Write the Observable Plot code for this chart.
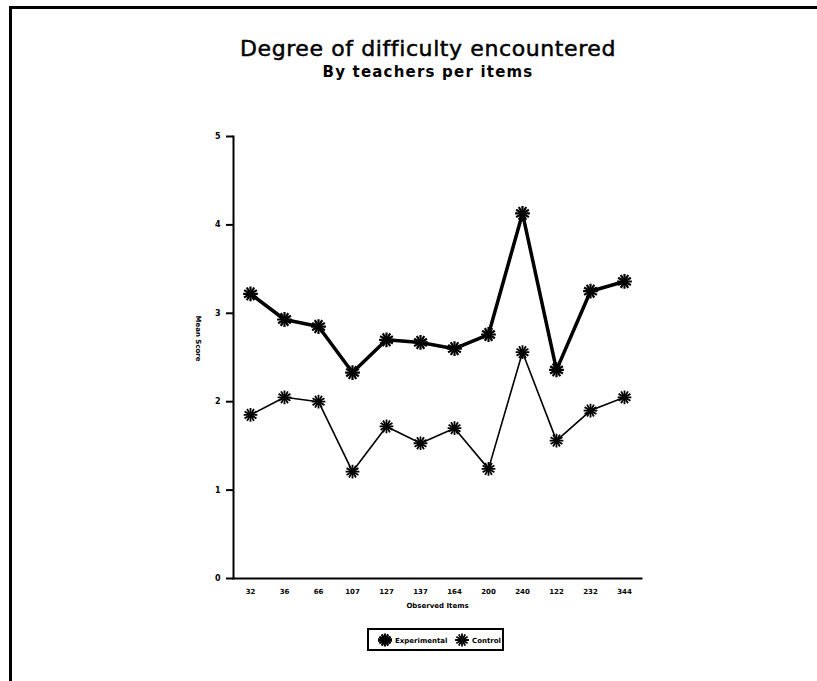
<!DOCTYPE html>
<html>
<head>
<meta charset="utf-8">
<script src="https://cdn.jsdelivr.net/npm/d3@7"></script>
<script src="https://cdn.jsdelivr.net/npm/@observablehq/plot@0.6"></script>
<style>
  html, body { margin: 0; padding: 0; background: #fff; }
  body { width: 817px; height: 681px; overflow: hidden; position: relative; font-family: "DejaVu Sans", sans-serif; color: #000; }
  #frame { position: absolute; left: 9px; top: 6px; width: 830px; height: 700px; border-top: 3px solid #000; border-left: 3px solid #000; }
  #title { position: absolute; left: 0; width: 856px; top: 36px; text-align: center; font-size: 22px; line-height: 26px; letter-spacing: 0.6px; -webkit-text-stroke: 0.5px #000; }
  #subtitle { position: absolute; left: 0; width: 856px; top: 63px; text-align: center; font-size: 15px; line-height: 19px; font-weight: bold; letter-spacing: 1.2px; }
  #chart { position: absolute; left: 0; top: 110px; }
  #legend { position: absolute; left: 367px; top: 628px; width: 133px; height: 19px; border: 2px solid #000; }
  #legend svg { display: block; }
</style>
</head>
<body>
<div id="frame"></div>
<div id="title">Degree of difficulty encountered</div>
<div id="subtitle">By teachers per items</div>
<div id="chart"></div>
<div id="legend"></div>
<script>
// ---- data ----
const items = ["32", "36", "66", "107", "127", "137", "164", "200", "240", "122", "232", "344"];
const experimental = [3.22, 2.93, 2.85, 2.33, 2.70, 2.67, 2.60, 2.76, 4.13, 2.36, 3.25, 3.36];
const control = [1.85, 2.05, 2.00, 1.21, 1.72, 1.53, 1.70, 1.24, 2.56, 1.56, 1.90, 2.05];
const yTicks = [0, 1, 2, 3, 4, 5];
const seriesNames = ["Experimental", "Control"];
const xLabel = "Observed Items";
const yLabel = "Mean Score";

const rows = items.flatMap((item, i) => [
  {item, group: seriesNames[0], v: experimental[i]},
  {item, group: seriesNames[1], v: control[i]}
]);
const expRows = rows.filter(d => d.group === seriesNames[0]);
const ctlRows = rows.filter(d => d.group === seriesNames[1]);

const chart = Plot.plot({
  width: 817,
  height: 510,
  marginTop: 26,
  marginBottom: 42,
  marginLeft: 233,
  marginRight: 176,
  style: {fontFamily: "DejaVu Sans", fontWeight: "bold", color: "#000", background: "transparent", overflow: "visible"},
  x: {type: "point", domain: items, padding: 0.45, label: null},
  y: {domain: [0, 5], ticks: yTicks, label: null},
  marks: [
    Plot.axisY({ticks: yTicks, tickSize: 7, tickPadding: 6, tickFormat: d => d, fontSize: 8, fontWeight: "bold", strokeWidth: 2, label: null}),
    Plot.axisX({tickSize: 0, tickPadding: 11, fontSize: 7, fontWeight: "bold", label: null}),
    Plot.frame({anchor: "left", strokeWidth: 2}),
    Plot.frame({anchor: "bottom", strokeWidth: 2}),
    Plot.text([xLabel], {frameAnchor: "bottom", dy: 29, fontSize: 7, fontWeight: "bold"}),
    Plot.text([yLabel], {frameAnchor: "left", dx: -35, dy: -42, rotate: 90, fontSize: 7, fontWeight: "bold"}),
    Plot.line(expRows, {x: "item", y: "v", stroke: "#000", strokeWidth: 3.5}),
    Plot.line(ctlRows, {x: "item", y: "v", stroke: "#000", strokeWidth: 1.6}),
    Plot.dot(expRows, {x: "item", y: "v", symbol: "asterisk", r: 7, stroke: "#000", strokeWidth: 2.2}),
    Plot.dot(expRows, {x: "item", y: "v", symbol: "asterisk", r: 7, stroke: "#000", strokeWidth: 2.2, rotate: 90}),
    Plot.dot(ctlRows, {x: "item", y: "v", symbol: "asterisk", r: 6.5, stroke: "#000", strokeWidth: 1.8}),
    Plot.dot(ctlRows, {x: "item", y: "v", symbol: "asterisk", r: 6.5, stroke: "#000", strokeWidth: 1.8, rotate: 90})
  ]
});
document.getElementById("chart").appendChild(chart);

// ---- legend ----
const star = d3.symbol(d3.symbolAsterisk, 120)();
const lg = d3.select("#legend").append("svg").attr("width", 133).attr("height", 19);
const entries = [
  {name: seriesNames[0], x: 16, w: 3.5, sw: 2.2, tx: 26},
  {name: seriesNames[1], x: 93, w: 1.6, sw: 1.8, tx: 103}
];
for (const e of entries) {
  const g = lg.append("g").attr("transform", `translate(${e.x},10)`);
  g.append("line").attr("x1", -7).attr("x2", 7).attr("stroke", "#000").attr("stroke-width", e.w);
  g.append("path").attr("d", star).attr("stroke", "#000").attr("stroke-width", e.sw).attr("fill", "none");
  g.append("path").attr("d", star).attr("stroke", "#000").attr("stroke-width", e.sw).attr("fill", "none").attr("transform", "rotate(90)");
  lg.append("text").attr("x", e.tx).attr("y", 12.5).attr("font-size", 7).attr("font-weight", "bold").attr("font-family", "DejaVu Sans").text(e.name);
}
</script>
</body>
</html>
